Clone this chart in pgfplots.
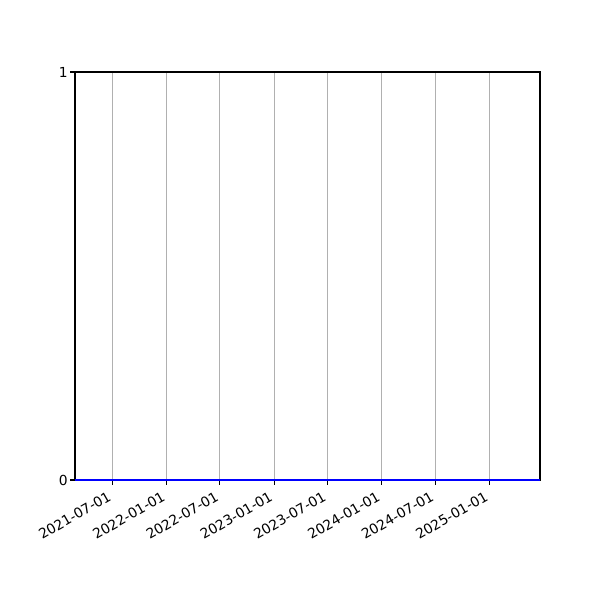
\documentclass[border=0pt]{standalone}
\usepackage{fontspec}
\setmainfont{DejaVu Sans}
\usepackage{pgfplots}
\pgfplotsset{compat=1.18}
\begin{document}
\fontsize{10}{12}\selectfont
\begin{tikzpicture}[x=1in,y=1in]
% page frame: 600x600 px at 100 px/in, axis box at (75,72)-(540,480)
\useasboundingbox (-0.75,-1.20) rectangle (5.25,4.80);
\begin{axis}[
    at={(0,0)}, anchor=south west,
    scale only axis,
    width=4.65in, height=4.08in,
    xmin=-127, xmax=1452,
    ymin=0, ymax=1,
    % days counted from 2021-07-01
    xtick={0,184,365,549,730,914,1096,1280},
    xticklabels={2021-07-01,2022-01-01,2022-07-01,2023-01-01,2023-07-01,2024-01-01,2024-07-01,2025-01-01},
    ytick={0,1},
    yticklabels={0,1},
    /pgf/number format/assume math mode=true,
    xticklabel style={xshift=-3.6pt, yshift=-2.6pt, rotate=30, anchor=north east, inner sep=1pt},
    yticklabel style={inner sep=1pt, xshift=-0.5pt},
    tick align=outside,
    major tick length=3.5pt,
    tick style={black, line width=0.8pt},
    xtick pos=bottom, ytick pos=left,
    axis line style={line width=0.8pt},
    xmajorgrids,
    major grid style={color=black!31, line width=0.8pt},
]
\addplot[blue, line width=1.5pt] coordinates {
    (-127,0) (0,0) (184,0) (365,0) (549,0) (730,0) (914,0) (1096,0) (1280,0) (1452,0)
};
\end{axis}
\end{tikzpicture}
\end{document}
